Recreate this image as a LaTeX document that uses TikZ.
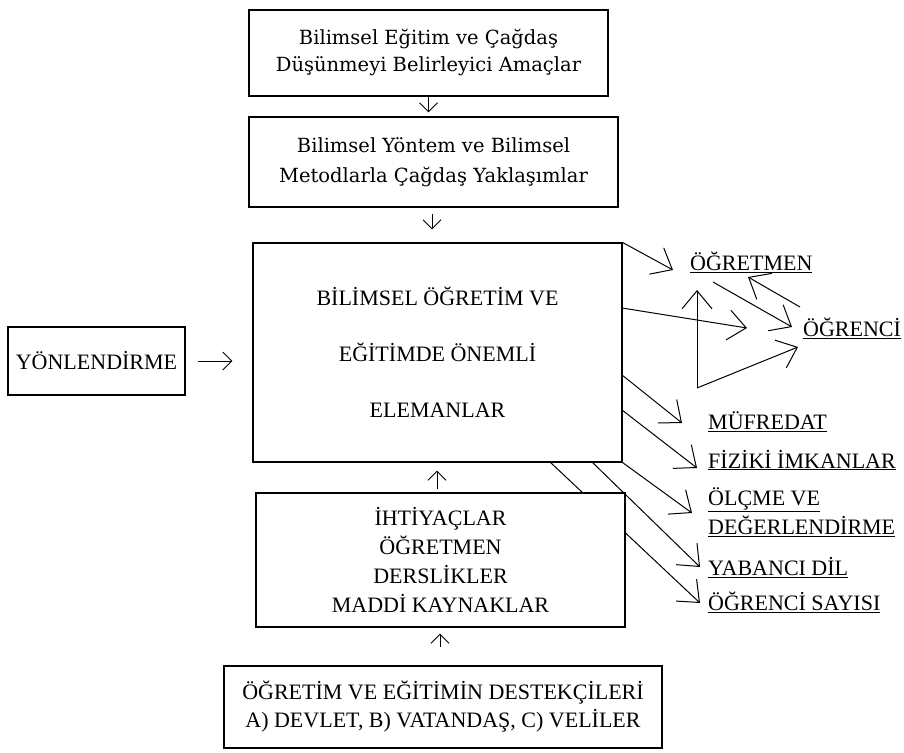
\documentclass[tikz,border=0pt]{standalone}
\usepackage{fontspec}
\setmainfont{Liberation Serif}
\newfontfamily\bookfont{DejaVu Serif}
\usetikzlibrary{arrows.meta}
\newcommand{\bigcaps}{\fontsize{22}{29}\selectfont}
\tikzset{
	box/.style={draw, line width=1.1pt, inner sep=0pt, align=center, fill=white},
	arr/.style={line width=1pt, -{Straight Barb[length=9pt,width=18pt]}},
	bigarr/.style={line width=1pt, -{Straight Barb[length=18pt,width=30pt]}},
	lbl/.style={anchor=west, inner sep=0pt, align=left, font=\bigcaps}
}

\begin{document}
\begin{tikzpicture}[x=1pt,y=-1pt]
		\useasboundingbox (0,0) rectangle (904,752);
		% boxes of the middle column
		\node[box, minimum width=359, minimum height=86, font=\bookfont\fontsize{19.5}{27}\selectfont] (aims) at (428.5,53)
			{Bilimsel Eğitim ve Çağdaş\\Düşünmeyi Belirleyici Amaçlar};
		\node[box, minimum width=369, minimum height=90, font=\bookfont\fontsize{19.5}{30}\selectfont] (method) at (433.5,162)
			{Bilimsel Yöntem ve Bilimsel\\Metodlarla Çağdaş Yaklaşımlar};
		\node[box, minimum width=369, minimum height=219, font=\fontsize{22}{56}\selectfont] (elem) at (437.5,352.5)
			{BİLİMSEL ÖĞRETİM VE\\EĞİTİMDE ÖNEMLİ\\ELEMANLAR};
		\node[box, minimum width=177, minimum height=68, font=\bigcaps] (guide) at (96.5,361) {YÖNLENDİRME};
		% arrow behind the needs box
		\coordinate (A) at (550,462);
		\coordinate (B) at (700,603);
		\draw[bigarr] (A) -- (B);
		\node[box, minimum width=369, minimum height=134, font=\bigcaps] (needs) at (440.5,560)
			{İHTİYAÇLAR\\ÖĞRETMEN\\DERSLİKLER\\MADDİ KAYNAKLAR};
		\node[box, minimum width=438, minimum height=82, font=\fontsize{22}{28}\selectfont] (support) at (443,707)
			{ÖĞRETİM VE EĞİTİMİN DESTEKÇİLERİ\\A) DEVLET, B) VATANDAŞ, C) VELİLER};
		% vertical arrows
		\draw[arr, shorten >=4pt] (aims.south) -- (aims.south |- method.north);
		\draw[arr, shorten <=6pt, shorten >=13pt] (method.south -| 432,0) -- (elem.north -| 432,0);
		\draw[arr, shorten <=3pt, shorten >=8pt] (needs.north -| 437,0) -- (elem.south -| 437,0);
		\draw[arr, shorten <=18pt, shorten >=6pt] (support.north -| 440,0) -- (needs.south -| 440,0);
		\draw[arr, shorten <=12pt, shorten >=20pt] (guide.east) -- (guide.east -| elem.west);
		% labels on the right
		\node[lbl] (teacher) at (690,262) {\underline{ÖĞRETMEN}};
		\node[lbl] (student) at (803,328) {\underline{ÖĞRENCİ}};
		\node[lbl] (curr) at (708,422) {\underline{MÜFREDAT}};
		\node[lbl] (phys) at (708,460) {\underline{FİZİKİ İMKANLAR}};
		\node[lbl] (eval) at (708,512) {\underline{ÖLÇME VE}\\\underline{DEĞERLENDİRME}};
		\node[lbl] (lang) at (708,568) {\underline{YABANCI DİL}};
		\node[lbl] (count) at (708,602) {\underline{ÖĞRENCİ SAYISI}};
		% arrows on the right
		\coordinate (C) at (673,270);
		\coordinate (D) at (622,308);
		\coordinate (E) at (747,328);
		\coordinate (F) at (713,282);
		\coordinate (G) at (792,327);
		\coordinate (H) at (800,307);
		\coordinate (I) at (748,277);
		\coordinate (J) at (697,388);
		\coordinate (K) at (697,290);
		\coordinate (L) at (798,347);
		\draw[bigarr] (elem.north east) -- (C);
		\draw[bigarr] (D) -- (E);
		\draw[bigarr] (F) -- (G);
		\draw[bigarr] (H) -- (I);
		\draw[bigarr] (J) -- (K);
		\draw[bigarr] (J) -- (L);
		\coordinate (M) at (622,375);
		\coordinate (N) at (682,423);
		\coordinate (O) at (622,410);
		\coordinate (P) at (697,468);
		\coordinate (Q) at (692,513);
		\coordinate (R) at (592,462);
		\coordinate (S) at (700,567);
		\draw[bigarr] (M) -- (N);
		\draw[bigarr] (O) -- (P);
		\draw[bigarr] (elem.south east) -- (Q);
		\draw[bigarr] (R) -- (S);
\end{tikzpicture}
\end{document}
